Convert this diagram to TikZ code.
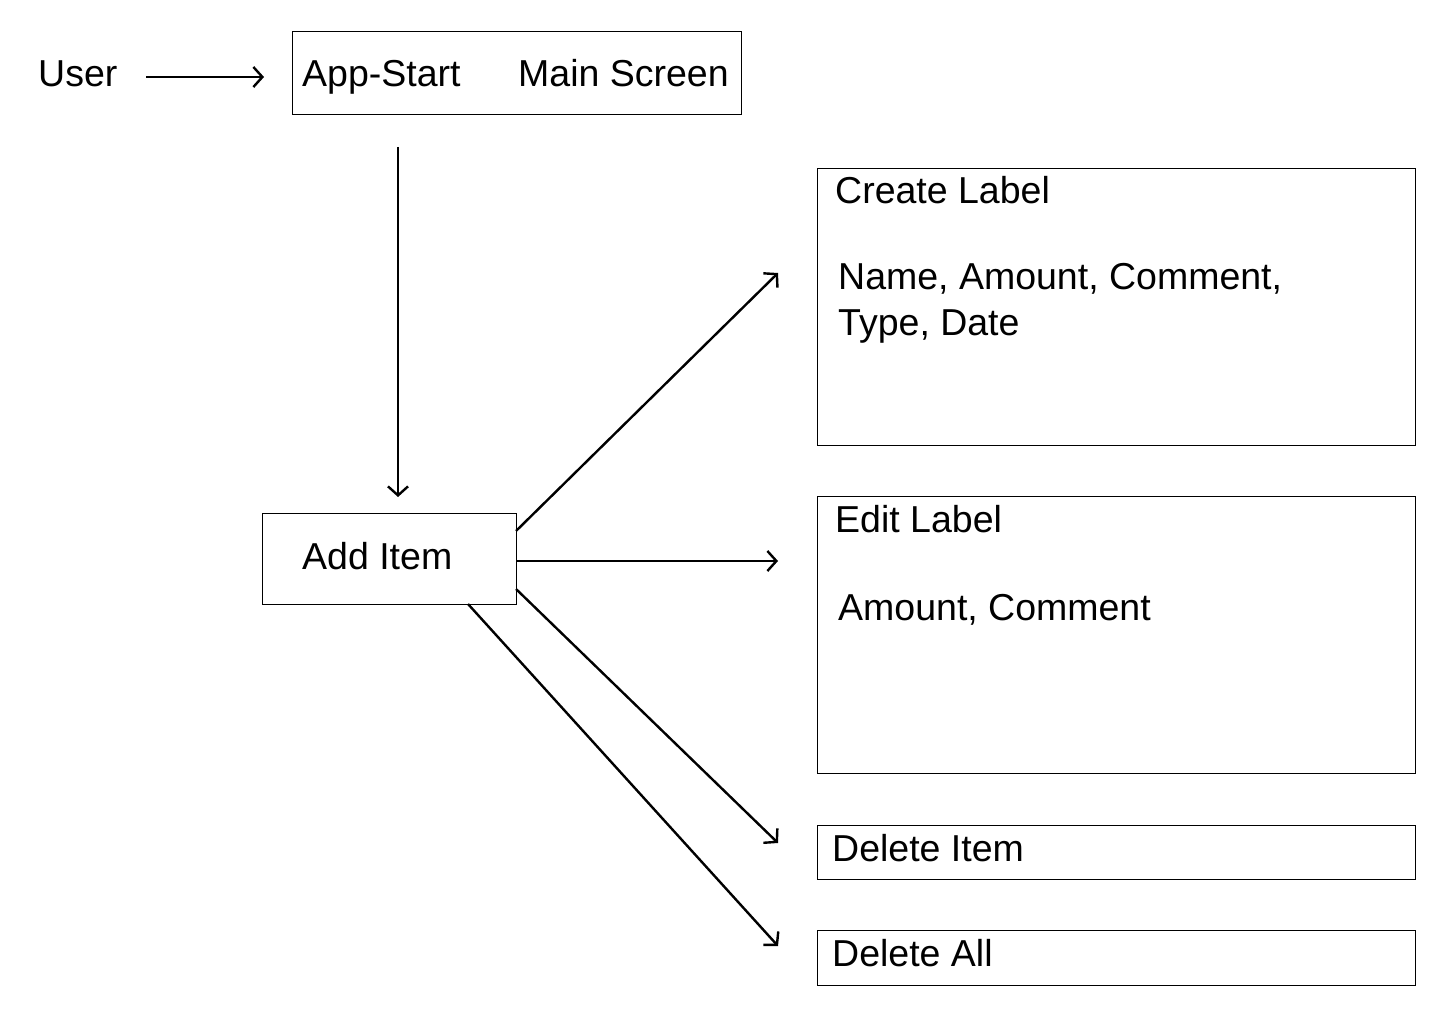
\documentclass[tikz,border=0pt]{standalone}
\usepackage{fontspec}
\setmainfont{Liberation Sans}
\usetikzlibrary{arrows.meta}
\begin{document}
\begin{tikzpicture}[x=1pt,y=-1pt,
  box/.style={draw,line width=1.2pt},
  conn/.style={line width=2.4pt,-{Straight Barb[length=9pt,width=20pt,line width=2.4pt]}},
  txt/.style={anchor=base west,inner sep=0pt,font=\fontsize{37.5}{45}\selectfont}]
\useasboundingbox (0,0) rectangle (1440,1024);
% boxes
\node[box,minimum width=449pt,minimum height=83pt,anchor=north west,inner sep=0pt] (main) at (292,31) {};
\node[box,minimum width=254pt,minimum height=91pt,anchor=north west,inner sep=0pt] (add) at (262,513) {};
\node[box,minimum width=598pt,minimum height=277pt,anchor=north west,inner sep=0pt] (create) at (817,168) {};
\node[box,minimum width=598pt,minimum height=277pt,anchor=north west,inner sep=0pt] (edit) at (817,496) {};
\node[box,minimum width=598pt,minimum height=54pt,anchor=north west,inner sep=0pt] (delitem) at (817,825) {};
\node[box,minimum width=598pt,minimum height=55pt,anchor=north west,inner sep=0pt] (delall) at (817,930) {};
% texts
\node[txt] (user) at (38,87) {User};
\node[txt] (appstart) at (302,87) {App-Start};
\node[txt] (mainscreen) at (518,87) {Main Screen};
\node[txt] (additem) at (302,569) {Add Item};
\node[txt] (createlbl) at (835,204) {Create Label};
\node[txt] (createf1) at (838,290) {Name, Amount, Comment,};
\node[txt] (createf2) at (838,335) {Type, Date};
\node[txt] (editlbl) at (835,532) {Edit Label};
\node[txt] (editf) at (838,620) {Amount, Comment};
\node[txt] (delitemt) at (832,861) {Delete Item};
\node[txt] (delallt) at (832,966) {Delete All};
% connector end points
\coordinate (u0) at (146,77); \coordinate (u1) at (264,77);
\coordinate (v0) at (398,147); \coordinate (v1) at (398,497);
\coordinate (c0) at (516,531); \coordinate (c1) at (778,273);
\coordinate (e0) at (516,561); \coordinate (e1) at (778,561);
\coordinate (d0) at (516,589); \coordinate (d1) at (778,843);
\coordinate (a0) at (468,604); \coordinate (a1) at (778,946);
\draw[conn] (u0) -- (u1);
\draw[conn] (v0) -- (v1);
\draw[conn] (c0) -- (c1);
\draw[conn] (e0) -- (e1);
\draw[conn] (d0) -- (d1);
\draw[conn] (a0) -- (a1);
\end{tikzpicture}
\end{document}
